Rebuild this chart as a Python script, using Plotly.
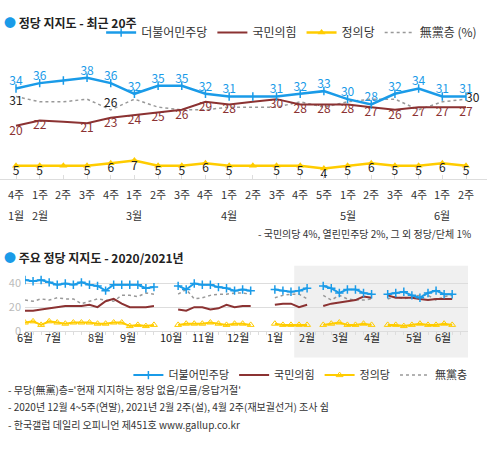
import plotly.graph_objects as go

FONT = "Noto Sans CJK KR"
BLUE = "#1a9be8"
RED = "#8b3232"
GOLD = "#ffcc00"
GRAY = "#999999"

# ---- recent 20 weeks ----
weeks = ["4주", "1주", "2주", "3주", "4주", "1주", "2주", "3주", "4주", "1주",
         "2주", "3주", "4주", "5주", "1주", "2주", "3주", "4주", "1주", "2주"]
months = {0: "1월", 1: "2월", 5: "3월", 9: "4월", 14: "5월", 18: "6월"}
dp = [34, 36, 37, 38, 36, 32, 35, 35, 32, 31, 31, 31, 32, 33, 30, 28, 32, 34, 31, 31]
ppp = [20, 22, 21.5, 21, 23, 24, 25, 26, 29, 28, 29, 30, 28, 28, 28, 27, 26, 27, 27, 27]
jp = [5, 5, 5, 5, 6, 7, 5, 5, 6, 5, 5, 5, 5, 4, 5, 6, 5, 5, 6, 5]
ind = [31, 29, 29, 30, 26, 30, 27, 26, 26, 27, 27, 27, 29, 27, 29, 30, 30, 26, 29, 30]
skip = {2, 10}

# ---- 2020/2021 weekly (segments separated by None) ----
hx = (list(range(0, 17)) + [None] + list(range(19, 29)) + [None] + list(range(31, 36))
      + [None] + list(range(37, 44)) + [None] + list(range(45, 54)))
h_dp = ([43, 42, 43, 41, 39, 40, 39, 41, 39, 38, 34, 39, 39, 39, 39, 36, 37] + [None]
        + [38, 35, 40, 39, 39, 37, 36, 34, 35, 34] + [None] + [35, 34, 33, 34, 36] + [None]
        + [38, 36, 32, 35, 35, 32, 31] + [None] + [31, 32, 33, 30, 28, 32, 34, 31, 31])
h_ppp = ([17, 17, 18, 19, 20, 21, 21, 21, 22, 20, 25, 27, 23, 20, 20, 20, 21] + [None]
         + [18, 17, 20, 20, 18, 19, 22, 20, 21, 21] + [None] + [22, 23, 23, 20, 22] + [None]
         + [21, 23, 24, 25, 26, 29, 28] + [None] + [30, 28, 28, 28, 27, 26, 27, 27, 27])
h_jp = ([7, 8, 5, 8, 7, 6, 7, 7, 7, 6, 6, 7, 7, 4, 5, 4, 5] + [None]
        + [5, 6, 6, 6, 7, 6, 5, 6, 6, 5] + [None] + [6, 5, 5, 5, 5] + [None]
        + [5, 6, 7, 5, 5, 6, 5] + [None] + [5, 5, 4, 5, 6, 5, 5, 6, 5])
h_ind = ([26, 25, 27, 26, 28, 27, 27, 23, 25, 27, 26, 25, 30, 30, 29, 32, 31] + [None]
         + [31, 35, 27, 28, 30, 31, 31, 32, 32, 31] + [None] + [28, 30, 31, 31, 27] + [None]
         + [30, 26, 30, 27, 26, 26, 27] + [None] + [27, 29, 27, 29, 30, 30, 26, 29, 30])
h_months = ["6월", "7월", "8월", "9월", "10월", "11월", "12월", "1월", "2월", "3월", "4월", "5월", "6월"]
h_month_pos = [0, 3.5, 8.75, 12.75, 18.1, 22.1, 26.4, 31, 35, 39.1, 43.1, 48.25, 51.9]

notes = ["- 무당(無黨)층='현재 지지하는 정당 없음/모름/응답거절'",
         "- 2020년 12월 4~5주(연말), 2021년 2월 2주(설), 4월 2주(재보궐선거) 조사 쉼",
         "- 한국갤럽 데일리 오피니언 제451호 www.gallup.co.kr"]

W, H = 487, 453
def py(px):
    return 1 - px / H

fig = go.Figure()
xs = list(range(len(weeks)))

# top lines
fig.add_trace(go.Scatter(x=xs, y=ind, mode="lines", name="無黨층 (%)",
                         line=dict(color=GRAY, width=1.5, dash="dot"), legendrank=4))
fig.add_trace(go.Scatter(x=xs, y=ppp, mode="lines", name="국민의힘",
                         line=dict(color=RED, width=2), legendrank=2))
fig.add_trace(go.Scatter(x=xs, y=jp, mode="lines+markers", name="정의당",
                         line=dict(color=GOLD, width=2.5),
                         marker=dict(symbol="triangle-up", size=7, color=GOLD), legendrank=3))
fig.add_trace(go.Scatter(x=xs, y=dp, mode="lines+markers", name="더불어민주당",
                         line=dict(color=BLUE, width=2.5),
                         marker=dict(symbol="line-ns-open", size=6, color=BLUE,
                                     line=dict(color=BLUE, width=1.5)), legendrank=1))

def lab(vals, i):
    return "" if i in skip else f"{vals[i]:g}"

fig.add_trace(go.Scatter(x=xs, y=dp, mode="text", text=[lab(dp, i) for i in xs],
                         textposition="top center", showlegend=False,
                         textfont=dict(color=BLUE, size=12, family=FONT)))
fig.add_trace(go.Scatter(x=xs, y=ppp, mode="text", text=[lab(ppp, i) for i in xs],
                         textposition="bottom center", showlegend=False,
                         textfont=dict(color=RED, size=12, family=FONT)))
fig.add_trace(go.Scatter(x=xs, y=jp, mode="text", text=[lab(jp, i) for i in xs],
                         textposition="bottom center", showlegend=False,
                         textfont=dict(color="#222", size=12, family=FONT)))
fig.add_trace(go.Scatter(x=[0, 4], y=[ind[0], ind[4]], mode="text",
                         text=[f"{ind[0]}", f"{ind[4]}"],
                         textposition=["bottom center", "top center"], showlegend=False,
                         textfont=dict(color="#222", size=12, family=FONT)))
fig.add_trace(go.Scatter(x=[19], y=[ind[19]], mode="text", text=[f"{ind[19]}"],
                         textposition="middle right", showlegend=False,
                         textfont=dict(color="#222", size=12, family=FONT)))

# bottom lines
fig.add_trace(go.Scatter(x=hx, y=h_ind, mode="lines", name="無黨층", xaxis="x2", yaxis="y2",
                         line=dict(color=GRAY, width=1.5, dash="dot"), legend="legend2", legendrank=4))
fig.add_trace(go.Scatter(x=hx, y=h_ppp, mode="lines", name="국민의힘", xaxis="x2", yaxis="y2",
                         line=dict(color=RED, width=2), legend="legend2", legendrank=2))
fig.add_trace(go.Scatter(x=hx, y=h_jp, mode="lines+markers", name="정의당", xaxis="x2", yaxis="y2",
                         line=dict(color=GOLD, width=2),
                         marker=dict(symbol="triangle-up-open", size=6, color=GOLD),
                         legend="legend2", legendrank=3))
fig.add_trace(go.Scatter(x=hx, y=h_dp, mode="lines+markers", name="더불어민주당", xaxis="x2", yaxis="y2",
                         line=dict(color=BLUE, width=2),
                         marker=dict(symbol="cross-thin-open", size=6, color=BLUE,
                                     line=dict(color=BLUE, width=1.5)),
                         legend="legend2", legendrank=1))

ann = []
for i, w in enumerate(weeks):
    ann.append(dict(x=i, y=py(197), xref="x", yref="paper", text=w, showarrow=False,
                    font=dict(size=11, color="#333", family=FONT)))
for i, m in months.items():
    ann.append(dict(x=i, y=py(218), xref="x", yref="paper", text=m, showarrow=False,
                    font=dict(size=11, color="#333", family=FONT)))
for p, m in zip(h_month_pos, h_months):
    ann.append(dict(x=p, y=py(352), xref="x2", yref="paper", text=m, showarrow=False,
                    font=dict(size=11, color="#222", family=FONT)))
ann += [
    dict(x=2 / W, y=py(12), xref="paper", yref="paper", xanchor="left", showarrow=False,
         text="<span style='color:#1a9be8'>●</span> <b>정당 지지도 - 최근 20주</b>",
         font=dict(size=12, color="#222", family=FONT)),
    dict(x=2 / W, y=py(262), xref="paper", yref="paper", xanchor="left", showarrow=False,
         text="<span style='color:#1a9be8'>●</span> <b>주요 정당 지지도 - 2020/2021년</b>",
         font=dict(size=12, color="#222", family=FONT)),
    dict(x=473 / W, y=py(237), xref="paper", yref="paper", xanchor="right", showarrow=False,
         text="- 국민의당 4%, 열린민주당 2%, 그 외 정당/단체 1%",
         font=dict(size=10, color="#333", family=FONT)),
]
for k, n in enumerate(notes):
    ann.append(dict(x=6 / W, y=py(405 + 18 * k), xref="paper", yref="paper", xanchor="left",
                    showarrow=False, text=n, font=dict(size=10, color="#333", family=FONT)))

fig.update_layout(
    width=W, height=H, margin=dict(l=0, r=0, t=0, b=0),
    paper_bgcolor="white", plot_bgcolor="rgba(0,0,0,0)",
    font=dict(family=FONT, size=12, color="#222"),
    xaxis=dict(domain=[0, 1], range=[-16 / 23.68, 19 + 21 / 23.68], showgrid=False,
               zeroline=False, showline=True, linecolor="#dddddd", ticks="inside",
               ticklen=4, tickcolor="#dddddd", dtick=1, showticklabels=False),
    yaxis=dict(domain=[py(182), py(60)], range=[0, 122 / 2.71], visible=False),
    xaxis2=dict(anchor="y2", domain=[25 / W, 468 / W], range=[0, 443 / 8.06], showgrid=False,
                zeroline=False, showline=True, linecolor="#dddddd", ticks="outside",
                ticklen=3, tickcolor="#dddddd", tickmode="linear", tick0=0, dtick=1,
                showticklabels=False),
    yaxis2=dict(anchor="x2", domain=[py(336), py(272)], range=[0, 64 / 1.2], tickvals=[0, 20, 40],
                gridcolor="#dddddd", zeroline=False, showline=False,
                tickfont=dict(color="#bbbbbb", size=11), ticklabelstandoff=3),
    legend=dict(orientation="h", x=0.99, xanchor="right", y=py(33), yanchor="middle",
                font=dict(size=12, color="#333", family=FONT), bgcolor="rgba(0,0,0,0)",
                traceorder="normal"),
    legend2=dict(orientation="h", x=0.97, xanchor="right", y=py(381), yanchor="middle",
                 font=dict(size=11, color="#333", family=FONT), bgcolor="rgba(0,0,0,0)",
                 traceorder="normal"),
    annotations=ann,
    shapes=[dict(type="rect", xref="x2", yref="paper", x0=33.4, x1=443 / 8.06,
                 y0=py(363), y1=py(270), fillcolor="#f0f0f0", line=dict(width=0), layer="below")],
)

fig.write_html("out.html", config={"displayModeBar": False},
               post_script="document.body.style.margin='0';")
